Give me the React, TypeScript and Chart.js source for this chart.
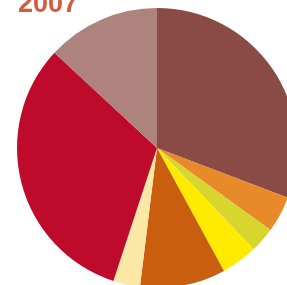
import React, { useEffect, useRef } from "react";
import { Chart, registerables } from "chart.js";

Chart.register(...registerables);

const title = "2007";
const categories = ["A", "B", "C", "D", "E", "F", "G", "H"];
const values = [30.8, 4.2, 2.9, 4.2, 9.9, 3.1, 31.9, 13.1];
const colors = ["#8A4B47", "#E8892A", "#D8D52F", "#FFEA00", "#C95E0E", "#FBE8A6", "#BE0A2B", "#AE837E"];

const titlePlugin = {
  id: "cornerTitle",
  afterDraw(chart: any) {
    const ctx = chart.ctx;
    ctx.save();
    ctx.font = "bold 27px 'Liberation Sans', Arial, sans-serif";
    ctx.fillStyle = "#D45B3D";
    ctx.textBaseline = "alphabetic";
    ctx.textAlign = "left";
    ctx.fillText(title, 18, 12);
    ctx.restore();
  },
};

export default function App() {
  const ref = useRef<HTMLCanvasElement | null>(null);
  useEffect(() => {
    if (!ref.current) return;
    const chart = new Chart(ref.current, {
      type: "pie",
      data: {
        labels: categories,
        datasets: [{ data: values, backgroundColor: colors, borderWidth: 0 }],
      },
      options: {
        animation: false,
        responsive: false,
        maintainAspectRatio: false,
        layout: { padding: { left: 17, top: 8, right: 3, bottom: 12 } },
        plugins: { legend: { display: false }, tooltip: { enabled: false }, title: { display: false } },
      },
      plugins: [titlePlugin],
    });
    return () => chart.destroy();
  }, []);
  return (
    <div style={{ position: "fixed", left: 0, top: 0, width: 287, height: 285, overflow: "hidden", background: "#fff" }}>
      <canvas ref={ref} width={300} height={300} style={{ position: "absolute", left: 0, top: 0, width: 300, height: 300 }} />
    </div>
  );
}
